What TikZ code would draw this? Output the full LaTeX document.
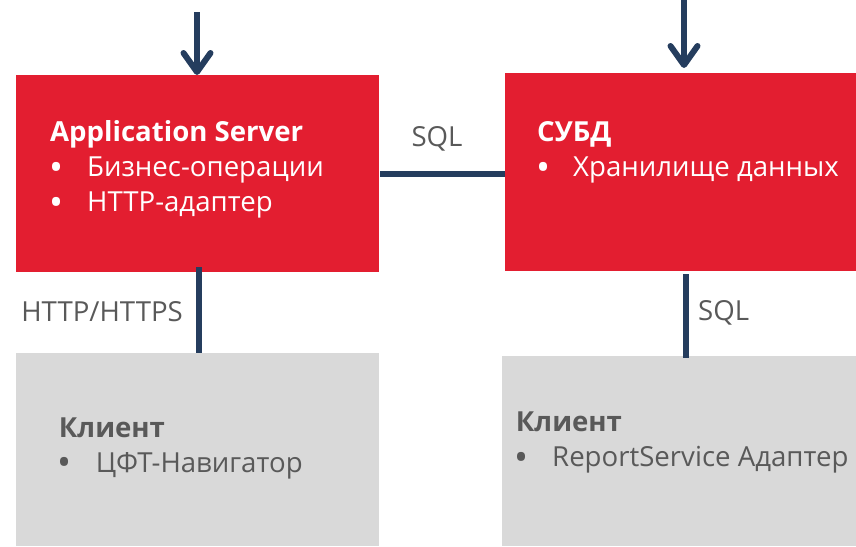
\documentclass[tikz,border=0pt]{standalone}
\usepackage{fontspec}
\setmainfont{Open Sans}
\usepackage{tikz}
\usetikzlibrary{positioning, arrows.meta, calc}

\definecolor{cftred}{HTML}{E31E30}
\definecolor{cftblue}{HTML}{253D5E}
\definecolor{cftgray}{HTML}{D9D9D9}
\definecolor{cfttext}{HTML}{595959}

\def\txtsize{\fontsize{27.6}{32}\selectfont}
\def\bigbullet{\raisebox{-3.5pt}{\scalebox{1.35}{\textbullet}}}

\tikzset{
    redbox/.style={fill=cftred, inner sep=0, outer sep=0, anchor=north west},
    graybox/.style={fill=cftgray, inner sep=0, outer sep=0, anchor=north west},
    link/.style={draw=cftblue, line width=6pt},
    flow/.style={link, -{Straight Barb[length=19pt, width=27pt, round]}},
    head/.style={anchor=base west, inner sep=0, font=\txtsize\bfseries},
    item/.style={anchor=base west, inner sep=0, font=\txtsize},
    lbl/.style={inner sep=0, text=cfttext, font=\txtsize}
}

\begin{document}
\begin{tikzpicture}[x=1pt, y=-1pt]
    \useasboundingbox (0,0) rectangle (856,546);

    % boxes
    \node[redbox, minimum width=363pt, minimum height=197pt] (as) at (16,75) {};
    \node[redbox, minimum width=351pt, minimum height=198pt] (db) at (505,73) {};
    \node[graybox, minimum width=363pt, minimum height=193pt] (cl1) at (16,353) {};
    \node[graybox, minimum width=354pt, minimum height=190pt] (cl2) at (502,356) {};

    % headers
    \node[head, text=white] (ash) at (50,141) {Application Server};
    \node[head, text=white] (dbh) at (537,141.7) {СУБД};
    \node[head, text=cfttext] (cl1h) at (58.7,437) {Клиент};
    \node[head, text=cfttext] (cl2h) at (515.7,431.7) {Клиент};

    % bullet items
    \foreach \i/\x/\y/\dx/\txt/\co in {
        1/50/176.7/37/Бизнес-операции/white,
        2/50/211.7/37/HTTP-адаптер/white,
        3/537/176.5/36/Хранилище данных/white,
        4/58/472/37.7/ЦФТ-Навигатор/cfttext,
        5/515/466.7/37/ReportService Адаптер/cfttext}
    {
        \node[item, text=\co] (b\i) at (\x-1,\y) {\bigbullet};
        \node[item, text=\co] (t\i) at (\x+\dx,\y) {\txt};
    }

    % incoming arrows
    \coordinate (src1) at (197,12);
    \coordinate (src2) at (684,-6);
    \draw[flow] (src1) -- (src1 |- as.north);
    \draw[flow, shorten >=5pt] (src2) -- (src2 |- db.north);

    % connections
    \draw[link] ([xshift=1pt]as.east) -- (as.east -| db.west);
    \draw[link] ([xshift=1.2pt, yshift=5pt]as.south) -- ([xshift=1.2pt]as.south |- cl1.north);
    \draw[link] ([xshift=5.2pt, yshift=-3pt]db.south) -- ([xshift=5.2pt, yshift=-2pt]db.south |- cl2.north);

    % labels
    \node[lbl, anchor=base] (sql1) at (437,146.7) {SQL};
    \node[lbl, anchor=base east] (http) at (183,321) {HTTP/HTTPS};
    \node[lbl, anchor=base west] (sql2) at (698,320) {SQL};
\end{tikzpicture}
\end{document}
